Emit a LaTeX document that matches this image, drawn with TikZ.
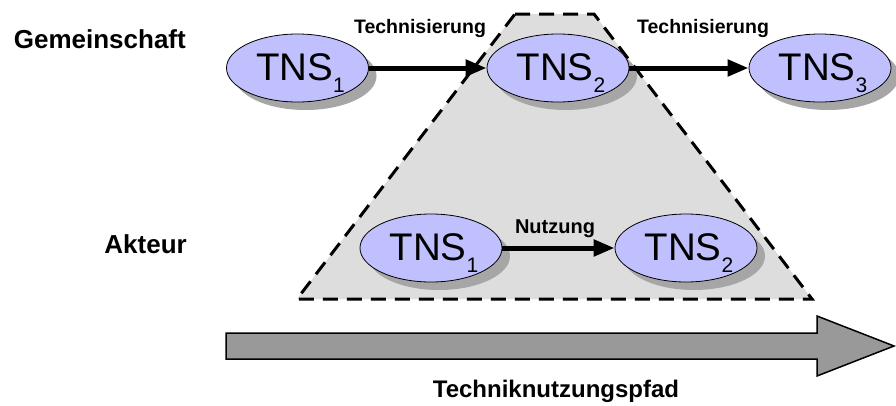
\documentclass[tikz,border=0pt]{standalone}
\usepackage{fontspec}
\setmainfont{Liberation Sans}
\usetikzlibrary{arrows.meta,shapes.geometric,shadows}
\definecolor{tnsfill}{RGB}{192,192,255}
\definecolor{shadowgray}{RGB}{166,166,166}
\definecolor{zonegray}{RGB}{221,221,221}
\definecolor{pathgray}{RGB}{153,153,153}
% "TNS" with a lowered index number
\newcommand{\tnslabel}[1]{TNS\lower12pt\hbox{\fontsize{21}{21}\selectfont #1}}

\begin{document}
\begin{tikzpicture}[x=1pt,y=-1pt,
  tns/.style={ellipse, draw=black, line width=0.8pt, fill=tnsfill,
    minimum width=142pt, minimum height=68pt, inner sep=0pt,
    general shadow={fill=shadowgray, shadow xshift=8pt, shadow yshift=-8pt}},
  tnstext/.style={anchor=base, inner sep=0pt, font=\fontsize{38.5}{40}\selectfont},
  conn/.style={line width=5pt, -{Triangle[length=21pt,width=16pt]}},
  rowlabel/.style={anchor=base east, inner sep=0pt, font=\fontsize{26}{28}\selectfont\bfseries},
  edgelabel/.style={anchor=base, inner sep=0pt, font=\fontsize{19.5}{22}\selectfont\bfseries},
  zone/.style={fill=zonegray, draw=black, line width=3pt, dash pattern=on 15pt off 9pt},
  pathbar/.style={fill=pathgray, draw=black, line width=1.5pt, line join=miter}
]
\useasboundingbox (0,0) rectangle (896,405);

% dashed trapezoid behind everything
\draw[zone] (515,14) -- (594,14) -- (812,299) -- (297,299) -- cycle;

% big path arrow
\draw[pathbar] (226,333) -- (817,333) -- (817,316) -- (894,346)
  -- (817,376) -- (817,359) -- (226,359) -- cycle;

% row labels
\node[rowlabel] (lg) at (186,48) {Gemeinschaft};
\node[rowlabel] (la) at (187,253) {Akteur};

% community row
\node[tns] (a1) at (297.5,68) {};
\node[tns] (a2) at (558,68) {};
\node[tns] (a3) at (820,68) {};
\node[tnstext] (ta1) at ([xshift=3pt,yshift=-12.5pt]a1.center) {\tnslabel{1}};
\node[tnstext] (ta2) at ([xshift=3pt,yshift=-12.5pt]a2.center) {\tnslabel{2}};
\node[tnstext] (ta3) at ([xshift=3pt,yshift=-12.5pt]a3.center) {\tnslabel{3}};

% actor row
\node[tns] (b1) at (431,248) {};
\node[tns] (b2) at (686,248) {};
\node[tnstext] (tb1) at ([xshift=3pt,yshift=-12pt]b1.center) {\tnslabel{1}};
\node[tnstext] (tb2) at ([xshift=3pt,yshift=-12pt]b2.center) {\tnslabel{2}};

% transitions
\draw[conn] (a1) -- (a2);
\draw[conn] (a2) -- (a3);
\draw[conn] (b1) -- (b2);

\node[edgelabel] (e1) at (420,33) {Technisierung};
\node[edgelabel] (e2) at (703,33) {Technisierung};
\node[edgelabel, font=\fontsize{20}{22}\selectfont\bfseries] (e3) at (555,233) {Nutzung};

\node[anchor=base, inner sep=0pt, font=\fontsize{24}{26}\selectfont\bfseries] (pf) at (556,397) {Techniknutzungspfad};
\end{tikzpicture}
\end{document}
